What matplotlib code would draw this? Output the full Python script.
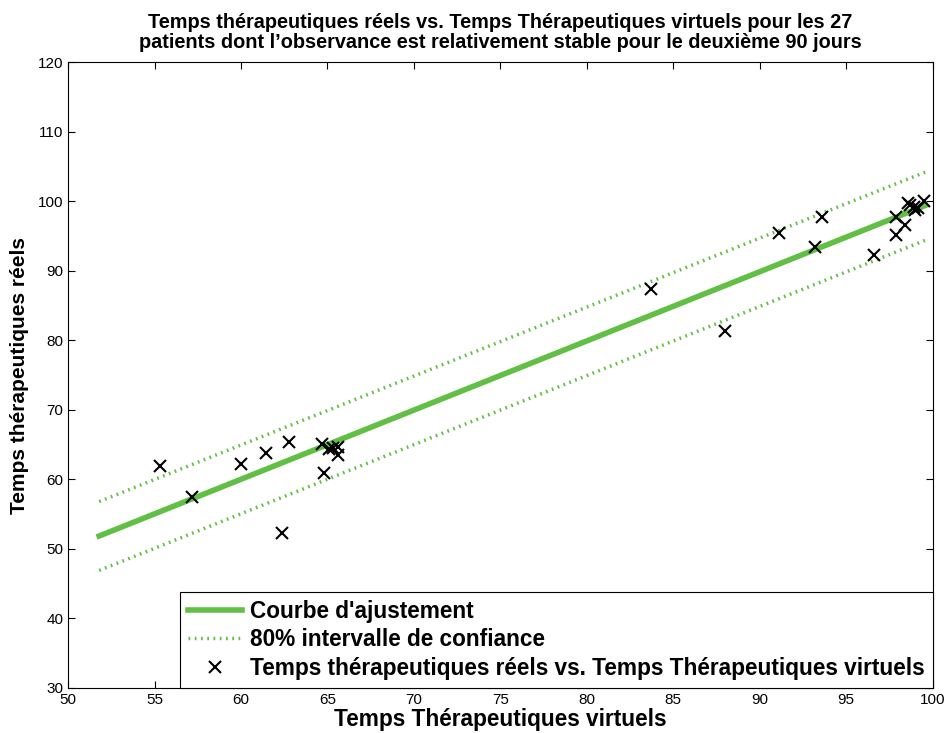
import numpy as np
import matplotlib
matplotlib.use("Agg")
import matplotlib.pyplot as plt

plt.rcParams['font.family'] = ['Liberation Sans', 'DejaVu Sans']

# temps virtuels (x) et réels (y) des 27 patients
temps_virtuels = [55.3, 57.15, 60.0, 61.45, 62.75, 62.4, 64.7, 64.8, 65.1, 65.35,
                  65.6, 65.6, 83.7, 88.0, 91.1, 93.2, 93.6, 96.6, 97.9, 97.9,
                  98.4, 98.55, 98.7, 98.9, 99.0, 99.15, 99.5]
temps_reels = [61.95, 57.4, 62.15, 63.8, 65.3, 52.25, 65.1, 60.9, 64.3, 64.45,
               64.7, 63.55, 87.3, 81.3, 95.35, 93.45, 97.65, 92.3, 97.75, 95.1,
               96.6, 99.75, 99.4, 99.2, 98.7, 98.95, 100.05]

# droite d'ajustement et bornes de l'intervalle à 80 %
fit_x = [51.8, 99.6]
fit_y = [51.85, 99.4]
ci_haut = [56.8, 104.2]
ci_bas = [46.9, 94.4]

vert = '#62bf45'

fig = plt.figure(figsize=(9.45, 7.33), dpi=100)
ax = fig.add_axes([0.072, 0.0614, 0.915, 0.854])

ax.plot(fit_x, fit_y, color=vert, lw=4, label="Courbe d'ajustement", zorder=2)
ax.plot(fit_x, ci_haut, color=vert, lw=2.5, ls=(0, (0.5, 1.3)),
        label='80% intervalle de confiance', zorder=2)
ax.plot(fit_x, ci_bas, color=vert, lw=2.5, ls=(0, (0.5, 1.3)), zorder=2)
ax.plot(temps_virtuels, temps_reels, 'x', color='black', ms=9, mew=1.5,
        label='Temps thérapeutiques réels vs. Temps Thérapeutiques virtuels', zorder=3)

ax.set_xlim(50, 100)
ax.set_ylim(30, 120)
ax.set_xticks(np.arange(50, 101, 5))
ax.set_yticks(np.arange(30, 121, 10))
ax.tick_params(direction='in', top=True, right=True, length=5, width=0.8,
               labelsize=11, colors='black')
for s in ax.spines.values():
    s.set_linewidth(0.8)

ax.set_xlabel('Temps Thérapeutiques virtuels', fontsize=16.3, fontweight='bold', labelpad=1)
ax.set_ylabel('Temps thérapeutiques réels', fontsize=15, fontweight='bold', labelpad=6)
ax.set_title('Temps thérapeutiques réels vs. Temps Thérapeutiques virtuels pour les 27\n'
             'patients dont l\u2019observance est relativement stable pour le deuxième 90 jours',
             fontsize=14.3, fontweight='bold', pad=10, linespacing=1.05)

leg = ax.legend(loc='lower right', borderaxespad=0, fancybox=False, framealpha=1,
                edgecolor='black', prop={'weight': 'bold', 'size': 16.3},
                handlelength=2.4, handletextpad=0.35, labelspacing=0.25,
                borderpad=0.35)
leg.get_frame().set_linewidth(0.8)

fig.savefig('out.png', dpi=100)
